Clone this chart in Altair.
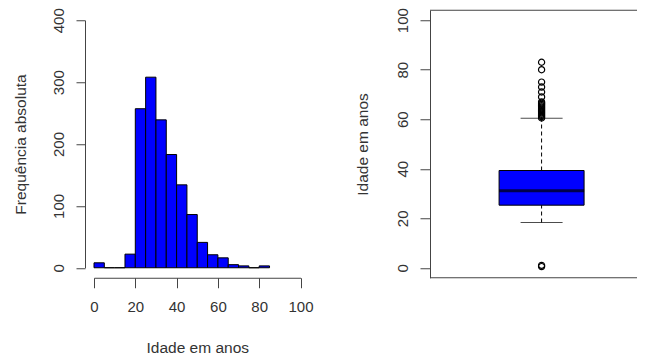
import altair as alt
import pandas as pd

# Histogram data (bins of width 5)
bin_start = [0, 5, 10, 15, 20, 25, 30, 35, 40, 45, 50, 55, 60, 65, 70, 75, 80]
bin_width = 5
counts = [8, 0, 0, 22, 257, 308, 239, 183, 134, 86, 41, 21, 16, 5, 3, 0, 3]
hist_x_ticks = [0, 20, 40, 60, 80, 100]
hist_y_ticks = [0, 100, 200, 300, 400]

# Boxplot statistics
q1 = 25.3
median = 31.1
q3 = 39.3
whisker_low = 18.3
whisker_high = 60.4
outliers = [0.5, 1, 60.5, 61, 61.5, 62, 62.5, 63, 63.5, 64, 64.5, 65, 65.5, 66,
            66.5, 67, 69, 71, 73, 75, 80, 83]
box_y_ticks = [0, 20, 40, 60, 80, 100]

FONT = "Liberation Sans"
BLUE = "#0000FF"
AX = "#444444"
TXT = "#333333"

hist_df = pd.DataFrame({
    "start": bin_start,
    "end": [s + bin_width for s in bin_start],
    "count": counts,
})

HW, HH = 206.5, 247.5
hist = alt.Chart(hist_df).mark_bar(
    fill=BLUE, stroke="black", strokeWidth=1
).encode(
    x=alt.X("start:Q",
            scale=alt.Scale(domain=[0, 100], nice=False, zero=False),
            axis=alt.Axis(values=hist_x_ticks, title="Idade em anos", grid=False,
                          offset=10, tickSize=10, labelPadding=19, labelBaseline="middle",
                          labelAngle=0, labelFlush=False, titleY=69.4,
                          titleBaseline="middle", titleFontWeight="normal")),
    x2="end:Q",
    y=alt.Y("count:Q",
            scale=alt.Scale(domain=[0, 400], nice=False),
            axis=alt.Axis(values=hist_y_ticks, title="Frequência absoluta", grid=False,
                          offset=9, tickSize=9, labelPadding=18, labelAngle=270,
                          labelAlign="center", labelBaseline="middle", labelFlush=False,
                          titleX=-65, titleY=HH / 2, titleAngle=270,
                          titleAlign="center", titleBaseline="middle",
                          titleFontWeight="normal")),
    y2=alt.datum(0),
).properties(width=HW, height=HH)

# Boxplot
BW, BH = 207, 267.5
box_df = pd.DataFrame({
    "grp": [1], "q1": [q1], "median": [median], "q3": [q3],
    "lo": [whisker_low], "hi": [whisker_high],
})
out_df = pd.DataFrame({"grp": [1] * len(outliers), "value": outliers})

xsc = alt.Scale(domain=[0.5, 0.5 + BW / 224.0], nice=False, zero=False)
ysc = alt.Scale(domain=[-4, 104], nice=False, zero=False)
yaxis = alt.Axis(values=box_y_ticks, title="Idade em anos", grid=False,
                 tickSize=10, labelPadding=18, labelAngle=270,
                 labelAlign="center", labelBaseline="middle", labelFlush=False,
                 titleX=-67.7, titleY=BH / 2, titleAngle=270,
                 titleAlign="center", titleBaseline="middle",
                 titleFontWeight="normal")

base = alt.Chart(box_df)
box_rect = base.mark_bar(size=85, fill=BLUE, stroke="black", strokeWidth=1).encode(
    x=alt.X("grp:Q", scale=xsc, axis=None),
    y=alt.Y("q1:Q", scale=ysc, axis=yaxis),
    y2="q3:Q",
)
med_tick = base.mark_tick(orient="horizontal", size=85, thickness=3, color="black").encode(
    x=alt.X("grp:Q", scale=xsc, axis=None),
    y=alt.Y("median:Q", scale=ysc),
)
upper_whisk = base.mark_rule(color="black", strokeDash=[4, 3], strokeWidth=1).encode(
    x=alt.X("grp:Q", scale=xsc, axis=None),
    y=alt.Y("q3:Q", scale=ysc),
    y2="hi:Q",
)
lower_whisk = base.mark_rule(color="black", strokeDash=[4, 3], strokeWidth=1).encode(
    x=alt.X("grp:Q", scale=xsc, axis=None),
    y=alt.Y("lo:Q", scale=ysc),
    y2="q1:Q",
)
cap_hi = base.mark_tick(orient="horizontal", size=42, thickness=1, color="black").encode(
    x=alt.X("grp:Q", scale=xsc, axis=None),
    y=alt.Y("hi:Q", scale=ysc),
)
cap_lo = base.mark_tick(orient="horizontal", size=42, thickness=1, color="black").encode(
    x=alt.X("grp:Q", scale=xsc, axis=None),
    y=alt.Y("lo:Q", scale=ysc),
)
pts = alt.Chart(out_df).mark_point(shape="circle", filled=False, stroke="black",
                                   strokeWidth=1.2, size=38, opacity=1).encode(
    x=alt.X("grp:Q", scale=xsc, axis=None),
    y=alt.Y("value:Q", scale=ysc),
)
frame_top = alt.Chart(box_df).mark_rule(color=AX, strokeWidth=1).encode(
    x=alt.value(0), x2=alt.value(BW), y=alt.value(0))
frame_bot = alt.Chart(box_df).mark_rule(color=AX, strokeWidth=1).encode(
    x=alt.value(0), x2=alt.value(BW), y=alt.value(BH))

boxp = alt.layer(box_rect, upper_whisk, lower_whisk, cap_hi, cap_lo, med_tick, pts,
                 frame_top, frame_bot).properties(width=BW, height=BH)

chart = alt.hconcat(hist, boxp, spacing=129, center=True, bounds="flush").properties(
    padding={"left": 5, "top": -1, "right": 0, "bottom": 0}
).configure_view(stroke=None).configure_axis(
    labelFont=FONT, titleFont=FONT, labelFontSize=15, titleFontSize=15.5,
    labelColor=TXT, titleColor=TXT, domainColor=AX, tickColor=AX,
    domainWidth=1, tickWidth=1,
)

chart.save("out.html", embed_options={"renderer": "svg", "actions": False})
